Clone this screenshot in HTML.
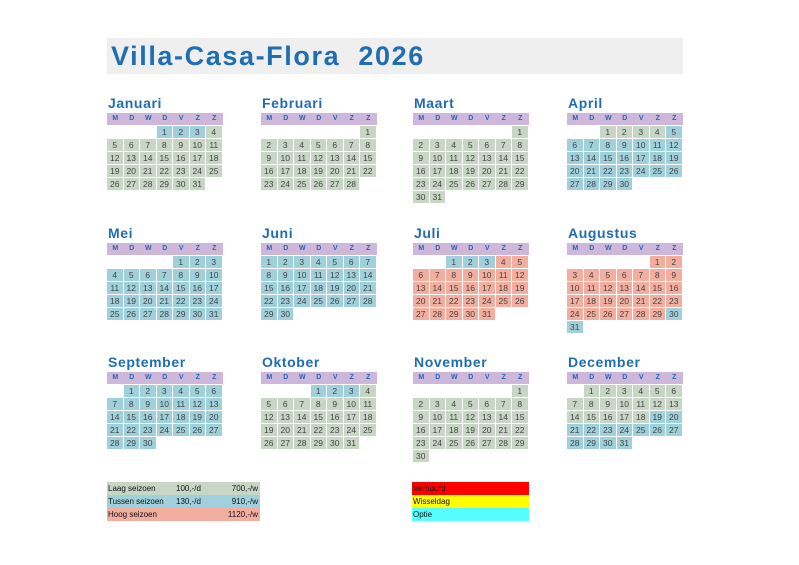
<!DOCTYPE html>
<html><head><meta charset="utf-8"><style>
body{margin:0;width:799px;height:565px;background:#fff;position:relative;font-family:"Liberation Sans",sans-serif;overflow:hidden}
.title{position:absolute;left:107px;top:38px;width:576px;height:36px;background:#efefef;color:#1f6db3;font-weight:bold;font-size:27px;letter-spacing:1.6px;line-height:37px;padding-left:4px;box-sizing:border-box;white-space:pre}
.mt{position:absolute;color:#1f6db3;font-weight:bold;font-size:14px;letter-spacing:0.6px}
.c{position:absolute;width:15.5px;height:11.5px;font-size:8.5px;line-height:12px;text-align:center;color:#444}
.h{background:#cdb8dc;color:#2b65b0;font-weight:bold;font-size:7px}
.g{background:#c8d6c6}.b{background:#9fd0dc}.r{background:#f4ae9f}
.leg{position:absolute;font-size:8px;line-height:13px;height:13px;color:#111}
</style></head><body>
<div class="title">Villa-Casa-Flora  2026</div>
<div id="cal"></div>
<div class="leg g" style="left:107px;top:482px;width:153px"><span style="position:absolute;left:1px">Laag seizoen</span><span style="position:absolute;left:69px">100,-/d</span><span style="position:absolute;right:2px">700,-/w</span></div>
<div class="leg b" style="left:107px;top:495px;width:153px"><span style="position:absolute;left:1px">Tussen seizoen</span><span style="position:absolute;left:69px">130,-/d</span><span style="position:absolute;right:2px">910,-/w</span></div>
<div class="leg r" style="left:107px;top:508px;width:153px"><span style="position:absolute;left:1px">Hoog seizoen</span><span style="position:absolute;right:2px">1120,-/w</span></div>
<div class="leg" style="left:412px;top:482px;width:117px;background:#f00"><span style="padding-left:1px">Verhuurd</span></div>
<div class="leg" style="left:412px;top:495px;width:117px;background:#ff0"><span style="padding-left:1px">Wisseldag</span></div>
<div class="leg" style="left:412px;top:508px;width:117px;background:#5ff"><span style="padding-left:1px">Optie</span></div>
<script>
var names=["Januari","Februari","Maart","April","Mei","Juni","Juli","Augustus","September","Oktober","November","December"];
var first=[3,6,6,2,4,0,2,5,1,3,6,1],len=[31,28,31,30,31,30,31,31,30,31,30,31];
function col(m,d){
 if(m==0)return d<=3?'b':'g';if(m==1||m==2||m==10)return 'g';
 if(m==3)return d<=4?'g':'b';if(m==4||m==5||m==8)return 'b';
 if(m==6)return d<=3?'b':'r';if(m==7)return d<=29?'r':'b';
 if(m==9)return d<=3?'b':'g';if(m==11)return d<=18?'g':'b';}
var xs=[107,261,413,567],ys=[95,225,354],h="";
var L=["M","D","W","D","V","Z","Z"];
for(var m=0;m<12;m++){
 var x0=xs[m%4],y0=ys[Math.floor(m/4)];
 h+='<div class="mt" style="left:'+(x0+1)+'px;top:'+y0+'px">'+names[m]+'</div>';
 for(var i=0;i<7;i++)h+='<div class="c h" style="left:'+(x0+i*16.5)+'px;top:'+(y0+18)+'px;width:16.5px">'+L[i]+'</div>';
 for(var d=1;d<=len[m];d++){var p=first[m]+d-1,r=Math.floor(p/7),c=p%7;
  h+='<div class="c '+col(m,d)+'" style="left:'+(x0+c*16.5)+'px;top:'+(y0+31+r*13)+'px">'+d+'</div>';}
}
document.getElementById('cal').innerHTML=h;
</script>
</body></html>
